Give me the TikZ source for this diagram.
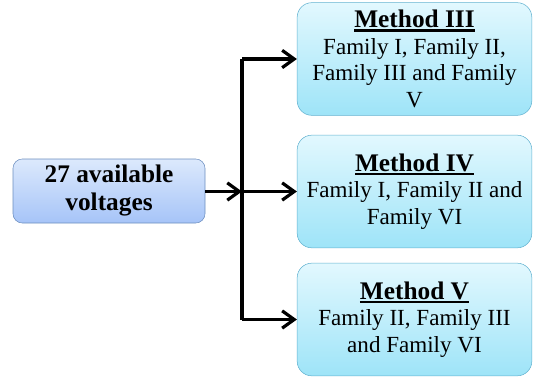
\documentclass[tikz,border=0pt]{standalone}
\usepackage{fontspec}
\setmainfont{Liberation Serif}
\usepackage{tikz}
\usetikzlibrary{calc, positioning, arrows.meta}
\definecolor{srctop}{RGB}{220,233,252}
\definecolor{srcbot}{RGB}{166,196,248}
\definecolor{srcline}{RGB}{108,142,191}
\definecolor{mtdtop}{RGB}{226,248,254}
\definecolor{mtdbot}{RGB}{158,228,248}
\definecolor{mtdline}{RGB}{98,178,208}
\tikzstyle{src}=[draw=srcline, rounded corners=7pt, top color=srctop, bottom color=srcbot, minimum width=144pt, minimum height=48pt, align=center, font=\fontsize{19}{21}\selectfont\bfseries, inner sep=0pt]
\tikzstyle{mtd}=[draw=mtdline, rounded corners=11pt, top color=mtdtop, bottom color=mtdbot, minimum width=176pt, minimum height=84.5pt, align=center, font=\fontsize{17.3}{20}\selectfont, inner sep=0pt]
\tikzstyle{wire}=[line width=2.4pt]
\tikzset{>={Straight Barb[length=9pt, width=13pt]}}
\newcommand{\hd}[1]{{\fontsize{19}{22}\selectfont\bfseries\setbox0\hbox{#1}\rlap{\rule[-3pt]{\wd0}{1.6pt}}\box0}}

\begin{document}
\begin{tikzpicture}[x=0.75pt, y=-0.75pt]
\useasboundingbox (0,0) rectangle (533,379);
\node[src] (v) at (109,191) {27 available\\voltages};
\node[mtd] (m3) at (414.5,59) {\hd{Method III}\\Family I, Family II,\\Family III and Family\\V};
\node[mtd] (m4) at (414.5,191.5) {\hd{Method IV}\\Family I, Family II and\\Family VI};
\node[mtd] (m5) at (414.5,319.5) {\hd{Method V}\\Family II, Family III\\and Family VI};
\coordinate (j3) at (242,59);
\coordinate (j4) at (242,191.5);
\coordinate (j5) at (242,319.5);
\draw[wire] (j3) -- (j5);
\draw[wire, ->] (v.east |- j4) -- (j4);
\draw[wire, ->] (j3) -- (m3);
\draw[wire, ->] (j4) -- (m4);
\draw[wire, ->] (j5) -- (m5);
\end{tikzpicture}
\end{document}
